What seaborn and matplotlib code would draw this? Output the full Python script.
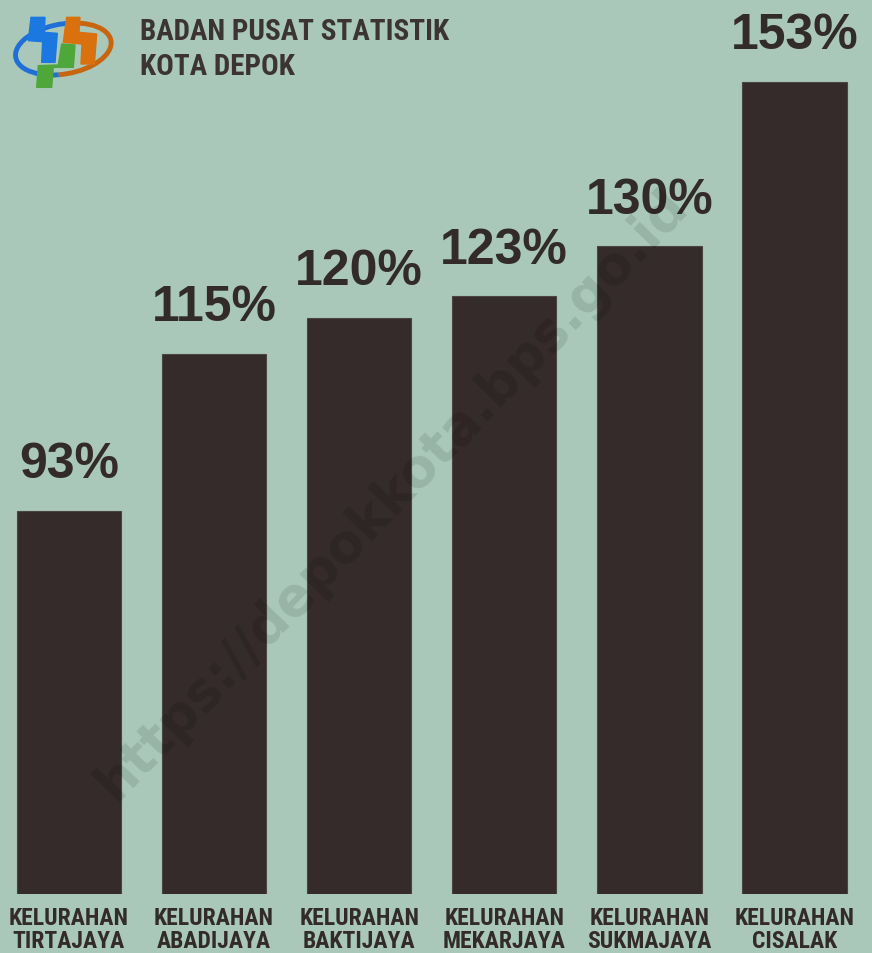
import matplotlib
matplotlib.use("Agg")
import matplotlib.pyplot as plt
from matplotlib import font_manager as fm
from matplotlib.patches import Polygon, Arc
import seaborn as sns
import pandas as pd

kelurahan = ["TIRTAJAYA", "ABADIJAYA", "BAKTIJAYA", "MEKARJAYA", "SUKMAJAYA", "CISALAK"]
persen = [93, 115, 120, 123, 130, 153]
labels = ["KELURAHAN\n" + k for k in kelurahan]

BG = "#a9c8b9"
BAR = "#342b2a"
TXT = "#332b2a"


def narrow_font():
    # look for some condensed bold face, else plain DejaVu
    for fam, stretch in [("Liberation Sans Narrow", "normal"),
                         ("Roboto Condensed", "normal"),
                         ("DejaVu Sans", "condensed"),
                         ("Liberation Sans", "condensed")]:
        fp = fm.FontProperties(family=fam, weight="bold", stretch=stretch)
        try:
            path = fm.findfont(fp, fallback_to_default=False)
        except Exception:
            continue
        name = path.lower()
        if "narrow" in name or "condensed" in name:
            return fm.FontProperties(fname=path), True
    return fm.FontProperties(family="DejaVu Sans", weight="bold"), False


narrow, is_narrow = narrow_font()

sns.set_theme(style="white")
plt.rcParams["font.family"] = ["Liberation Sans", "DejaVu Sans"]

df = pd.DataFrame({"kel": labels, "val": persen})

fig = plt.figure(figsize=(8.72, 9.54), dpi=100, facecolor=BG)
ax = fig.add_axes([0, 0.062, 1, 0.938])
ax.set_facecolor(BG)

sns.barplot(data=df, x="kel", y="val", color=BAR, width=0.72, saturation=1,
            edgecolor="#4a4442", linewidth=0.8, ax=ax)

ax.set_ylim(39.4, 164.6)
ax.set_xlim(-0.4755, 5.535)
for s in ax.spines.values():
    s.set_visible(False)
ax.set_yticks([])
ax.set_xlabel("")
ax.set_ylabel("")
ax.tick_params(axis="x", length=0, pad=9)
tick_size = 17 if is_narrow else 13
for t in ax.get_xticklabels():
    t.set_fontproperties(narrow)
    t.set_fontsize(tick_size)
    t.set_color(TXT)
    t.set_linespacing(0.98)

for i, v in enumerate(persen):
    ax.annotate(f"{v}%", (i, v), xytext=(0, 17), textcoords="offset points",
                ha="center", va="bottom", fontsize=36, fontweight="bold",
                color=TXT)

# header
head_size = 21 if is_narrow else 16.5
for y, line in [(32, "BADAN PUSAT STATISTIK"), (67, "KOTA DEPOK")]:
    fig.text(140 / 872, 1 - y / 954, line, ha="left", va="center",
             fontproperties=narrow, fontsize=head_size, color="#3b3433")

# logo, rough shapes
lg = fig.add_axes([0, 1 - 100 / 954, 130 / 872, 100 / 954])
lg.set_xlim(0, 390)
lg.set_ylim(300, 0)
lg.axis("off")
lg.add_patch(Arc((190, 150), 290, 150, angle=-10, theta1=110, theta2=300,
                 color="#1f6fd6", lw=3.5))
lg.add_patch(Arc((190, 150), 290, 150, angle=-10, theta1=-60, theta2=110,
                 color="#c8650f", lw=3.5))
lg.add_patch(Polygon([(93, 55), (135, 55), (133, 100), (172, 103), (165, 190),
                      (125, 190), (128, 128), (85, 125)], color="#1a78e0"))
lg.add_patch(Polygon([(200, 55), (240, 55), (237, 100), (290, 105), (283, 195),
                      (243, 195), (246, 135), (190, 130)], color="#d8710e"))
lg.add_patch(Polygon([(185, 135), (225, 138), (220, 205), (160, 205), (155, 265),
                      (110, 265), (115, 200), (175, 198)], color="#4fa63a"))

# watermark
fig.text(392 / 872, 1 - 495 / 954, "https://depokkota.bps.go.id", ha="center",
         va="center", rotation=46, fontsize=38, fontweight="bold", color="black",
         alpha=0.1, family="DejaVu Sans", zorder=5)

fig.savefig("out.png", dpi=100, facecolor=BG)
